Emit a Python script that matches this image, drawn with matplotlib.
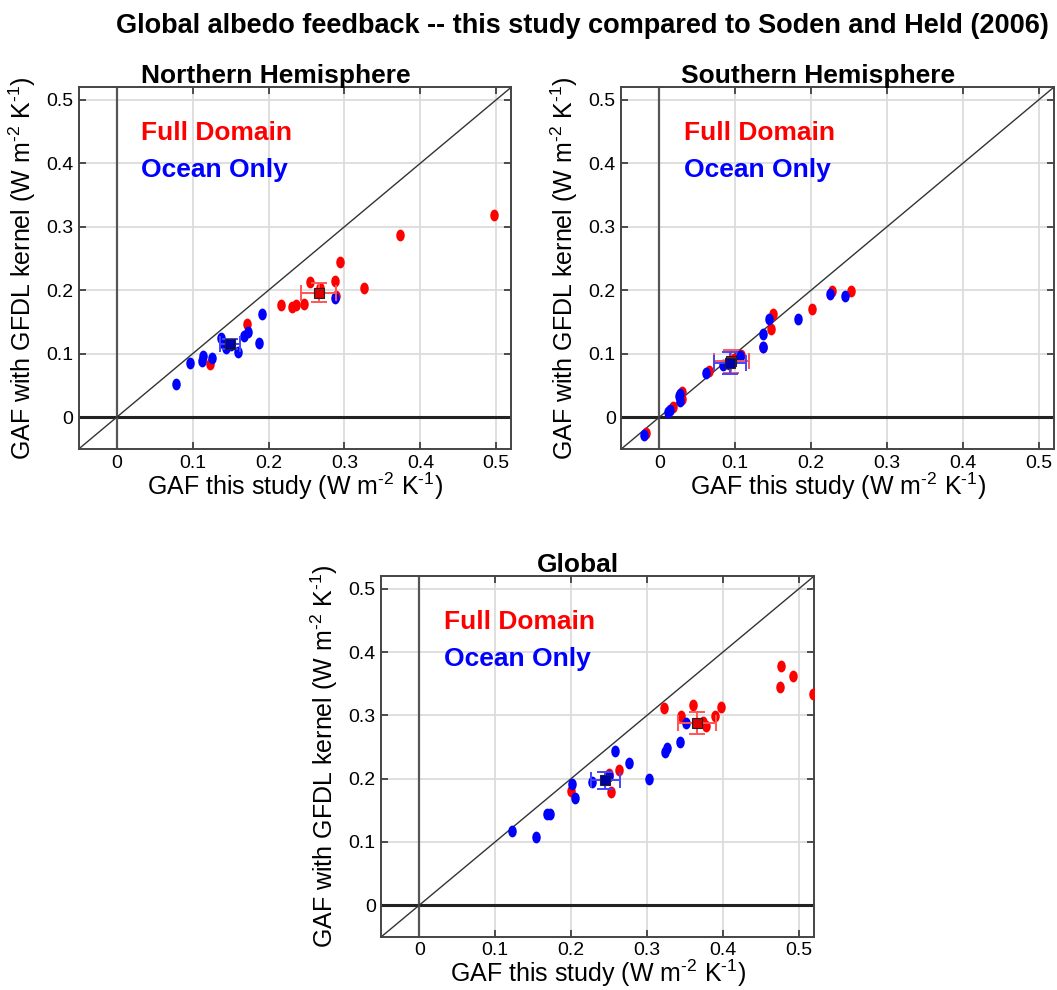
import matplotlib
matplotlib.use("Agg")
import matplotlib.pyplot as plt
from matplotlib.path import Path
from matplotlib.transforms import Affine2D

plt.rcParams['font.family'] = ['Liberation Sans', 'DejaVu Sans']
plt.rcParams['mathtext.fontset'] = 'custom'
plt.rcParams['mathtext.rm'] = 'Liberation Sans'
plt.rcParams['mathtext.default'] = 'regular'

# ---------------- data ----------------
title_main = "Global albedo feedback -- this study compared to Soden and Held (2006)"
panel_titles = ["Northern Hemisphere", "Southern Hemisphere", "Global"]
tick_vals = [0, 0.1, 0.2, 0.3, 0.4, 0.5]
tick_labels = ["0", "0.1", "0.2", "0.3", "0.4", "0.5"]
xlabel_text = "GAF this study (W m$^{\\text{-}2}$ K$^{\\text{-}1}$)"
ylabel_text = "GAF with GFDL kernel (W m$^{\\text{-}2}$ K$^{\\text{-}1}$)"

# Northern Hemisphere
nh_full_x = [0.497, 0.373, 0.294, 0.288, 0.326, 0.255, 0.268, 0.289, 0.216, 0.231, 0.236, 0.247, 0.172, 0.123]
nh_full_y = [0.319, 0.287, 0.244, 0.215, 0.204, 0.213, 0.203, 0.191, 0.177, 0.174, 0.176, 0.179, 0.147, 0.084]
nh_ocean_x = [0.078, 0.096, 0.112, 0.114, 0.125, 0.137, 0.140, 0.144, 0.150, 0.160, 0.168, 0.173, 0.188, 0.192, 0.287]
nh_ocean_y = [0.053, 0.086, 0.088, 0.096, 0.093, 0.124, 0.117, 0.109, 0.114, 0.102, 0.128, 0.134, 0.117, 0.162, 0.187]
nh_full_mean = [0.266, 0.196]
nh_full_err = [0.023, 0.015]
nh_ocean_mean = [0.149, 0.115]
nh_ocean_err = [0.013, 0.008]

# Southern Hemisphere
sh_full_x = [0.253, 0.228, 0.201, 0.150, 0.147, 0.137, 0.108, 0.099, 0.065, 0.030, 0.030, 0.018, -0.018]
sh_full_y = [0.199, 0.198, 0.171, 0.162, 0.139, 0.111, 0.098, 0.091, 0.073, 0.040, 0.028, 0.016, -0.025]
sh_ocean_x = [0.225, 0.244, 0.183, 0.144, 0.137, 0.136, 0.107, 0.084, 0.092, 0.062, 0.026, 0.027, 0.027, 0.014, 0.012, -0.020]
sh_ocean_y = [0.194, 0.191, 0.154, 0.155, 0.131, 0.110, 0.096, 0.082, 0.084, 0.070, 0.034, 0.036, 0.025, 0.012, 0.008, -0.028]
sh_full_mean = [0.095, 0.088]
sh_full_err = [0.023, 0.018]
sh_ocean_mean = [0.093, 0.085]
sh_ocean_err = [0.021, 0.017]

# Global
gl_full_x = [0.477, 0.492, 0.475, 0.518, 0.398, 0.360, 0.322, 0.345, 0.390, 0.374, 0.378, 0.263, 0.250, 0.252, 0.200]
gl_full_y = [0.378, 0.362, 0.345, 0.334, 0.313, 0.316, 0.311, 0.299, 0.299, 0.290, 0.283, 0.213, 0.207, 0.179, 0.180]
gl_ocean_x = [0.351, 0.344, 0.326, 0.323, 0.276, 0.258, 0.303, 0.250, 0.227, 0.201, 0.205, 0.168, 0.172, 0.122, 0.154]
gl_ocean_y = [0.288, 0.257, 0.249, 0.242, 0.224, 0.243, 0.199, 0.204, 0.195, 0.192, 0.170, 0.144, 0.144, 0.117, 0.107]
gl_full_mean = [0.366, 0.288]
gl_full_err = [0.025, 0.017]
gl_ocean_mean = [0.245, 0.197]
gl_ocean_err = [0.019, 0.013]

panels = [
    (nh_full_x, nh_full_y, nh_ocean_x, nh_ocean_y, nh_full_mean, nh_full_err, nh_ocean_mean, nh_ocean_err),
    (sh_full_x, sh_full_y, sh_ocean_x, sh_ocean_y, sh_full_mean, sh_full_err, sh_ocean_mean, sh_ocean_err),
    (gl_full_x, gl_full_y, gl_ocean_x, gl_ocean_y, gl_full_mean, gl_full_err, gl_ocean_mean, gl_ocean_err),
]

# ---------------- figure ----------------
fig = plt.figure(figsize=(10.57, 9.9), dpi=100)
rects = [
    [0.0745, 0.5465, 0.4094, 0.3656],
    [0.5878, 0.5465, 0.4094, 0.3656],
    [0.3608, 0.0538, 0.4094, 0.3643],
]

circ = Path.unit_circle()
ellipse = Path(Affine2D().scale(0.72, 1.0).transform(circ.vertices), circ.codes)

RED = '#ff0000'
BLUE = '#0000ff'
xlim = (-0.05, 0.52)
ylim = (-0.05, 0.52)

for rect, title, data in zip(rects, panel_titles, panels):
    fx, fy, ox, oy, fm, fe, om, oe = data
    ax = fig.add_axes(rect)
    ax.set_axisbelow(True)
    ax.set_xlim(*xlim)
    ax.set_ylim(*ylim)
    ax.set_xticks(tick_vals)
    ax.set_xticklabels(tick_labels)
    ax.set_yticks(tick_vals)
    ax.set_yticklabels(tick_labels)
    ax.grid(True, color='#dcdcdc', lw=1.3)
    ax.tick_params(direction='in', length=5, width=1.2, top=True, right=True,
                   labelsize=14, colors='#333333', labelcolor='black', pad=4)
    for s in ax.spines.values():
        s.set_color('#444444')
        s.set_linewidth(1.4)
    ax.axhline(0, color='#222222', lw=2.2, zorder=2)
    ax.axvline(0, color='#555555', lw=1.6, zorder=2)
    ax.plot(xlim, ylim, color='#333333', lw=1.0, zorder=2.5)

    ax.plot(fx, fy, ls='none', marker=ellipse, ms=8.5, color=RED, mec='none', zorder=3)
    ax.plot(ox, oy, ls='none', marker=ellipse, ms=8.5, color=BLUE, mec='none', zorder=4)

    ax.errorbar(fm[0], fm[1], xerr=fe[0], yerr=fe[1], fmt='none', ecolor='#ff5555',
                elinewidth=1.4, capsize=6, capthick=1.4, zorder=5)
    ax.plot(fm[0], fm[1], ls='none', marker='s', ms=6.5, mfc='#dd0000', mec='#222222', mew=0.8, zorder=6)
    ax.errorbar(om[0], om[1], xerr=oe[0], yerr=oe[1], fmt='none', ecolor='#4444ff',
                elinewidth=1.4, capsize=6, capthick=1.4, zorder=5)
    ax.plot(om[0], om[1], ls='none', marker='s', ms=6.5, mfc='#0000aa', mec='#222222', mew=0.8, zorder=6)

    ax.text(0.032, 0.448, "Full Domain", color=RED, fontsize=19, fontweight='bold',
            va='center', ha='left', zorder=7)
    ax.text(0.032, 0.389, "Ocean Only", color=BLUE, fontsize=19, fontweight='bold',
            va='center', ha='left', zorder=7)

    ax.set_title(title, fontsize=19, fontweight='bold', x=0.455, pad=3)
    ax.set_xlabel(xlabel_text, fontsize=18, labelpad=-1)
    ax.set_ylabel(ylabel_text, fontsize=18, labelpad=6)

fig.text(0.5515, 0.974, title_main, ha='center', va='center', fontsize=19.5, fontweight='bold')

fig.savefig("out.png", dpi=100)
